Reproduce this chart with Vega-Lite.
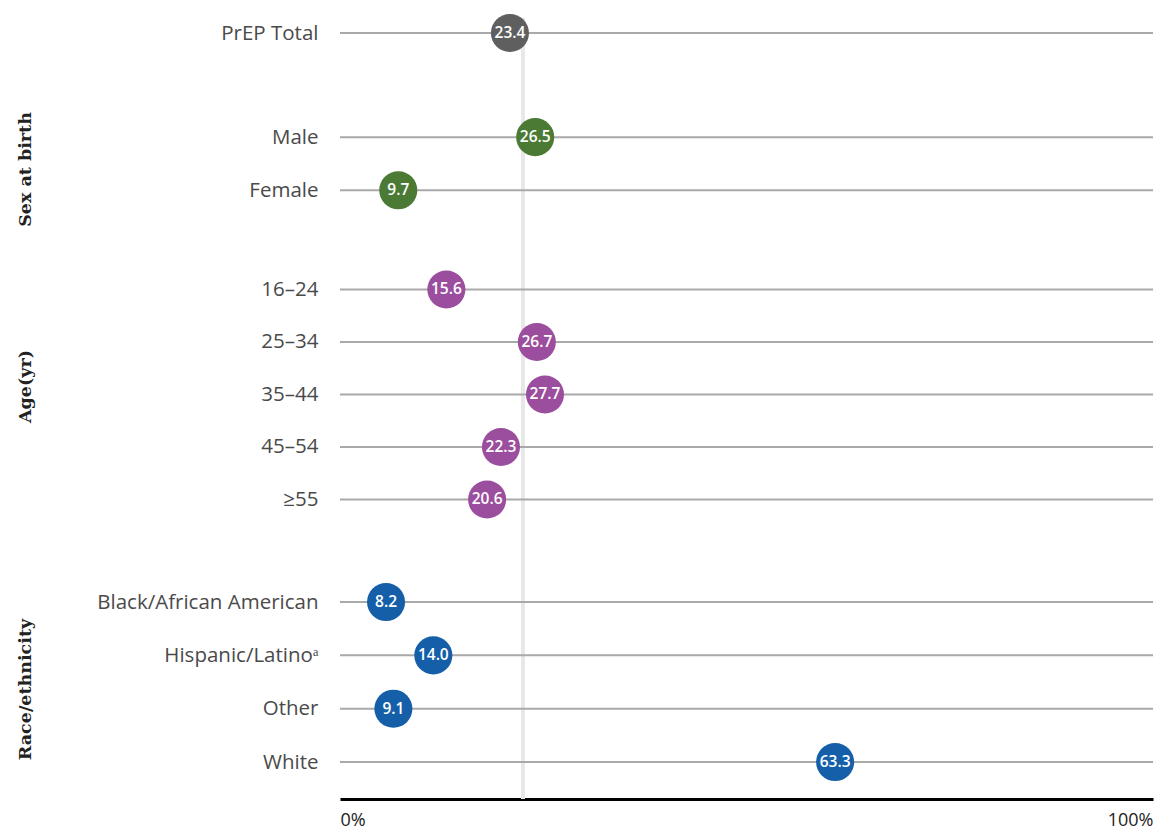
{
  "$schema": "https://vega.github.io/schema/vega-lite/v6.json",
  "padding": {"left": 16, "top": 13, "right": 4, "bottom": 0},
  "background": "white",
  "spacing": 0,
  "bounds": "flush",
  "config": {
    "view": {"stroke": null},
    "axis": {"grid": false, "ticks": false, "domain": false},
    "font": "Open Sans"
  },
  "datasets": {
    "pts": [
      {"group": "Total", "label": "PrEP Total", "value": 23.4},
      {"group": "Sex at birth", "label": "Male", "value": 26.5},
      {"group": "Sex at birth", "label": "Female", "value": 9.7},
      {"group": "Age(yr)", "label": "16–24", "value": 15.6},
      {"group": "Age(yr)", "label": "25–34", "value": 26.7},
      {"group": "Age(yr)", "label": "35–44", "value": 27.7},
      {"group": "Age(yr)", "label": "45–54", "value": 22.3},
      {"group": "Age(yr)", "label": "≥55", "value": 20.6},
      {"group": "Race/ethnicity", "label": "Black/African American", "value": 8.2},
      {"group": "Race/ethnicity", "label": "Hispanic/Latinoᵃ", "value": 14.0},
      {"group": "Race/ethnicity", "label": "Other", "value": 9.1},
      {"group": "Race/ethnicity", "label": "White", "value": 63.3}
    ],
    "ref": [{"v": 25}]
  },
  "vconcat": [
    {
      "width": 813, "height": 67,
      "layer": [
        {"data": {"name": "ref"}, "mark": {"type": "rule", "color": "#e8e8e8", "strokeWidth": 4},
         "encoding": {"x": {"field": "v", "type": "quantitative", "scale": {"domain": [2.55, 102.3], "nice": false, "zero": false}, "axis": null}}},
        {"data": {"name": "pts"}, "transform": [{"filter": "datum.group == 'Total'"}],
         "mark": {"type": "rule", "color": "#a9a9a9", "strokeWidth": 2},
         "encoding": {"y": {"field": "label", "type": "nominal", "sort": null, "title": null,
           "scale": {"type": "point", "padding": 0.5, "align": 0.224},
           "axis": {"labelFont": "Open Sans", "labelFontSize": 20.5, "labelColor": "#4a4a4a", "labelPadding": 22, "labelLimit": 400}}}},
        {"data": {"name": "pts"}, "transform": [{"filter": "datum.group == 'Total'"}],
         "mark": {"type": "circle", "size": 1450, "opacity": 1},
         "encoding": {
           "x": {"field": "value", "type": "quantitative", "axis": null},
           "y": {"field": "label", "type": "nominal", "sort": null},
           "color": {"field": "group", "type": "nominal", "legend": null,
             "scale": {"domain": ["Total", "Sex at birth", "Age(yr)", "Race/ethnicity"], "range": ["#5f5f5f", "#4b7a35", "#9a4e9d", "#155fa9"]}}}},
        {"data": {"name": "pts"}, "transform": [{"filter": "datum.group == 'Total'"}],
         "mark": {"type": "text", "color": "white", "fontSize": 15.5, "fontWeight": 600, "font": "Open Sans", "baseline": "middle", "align": "center"},
         "encoding": {
           "x": {"field": "value", "type": "quantitative", "axis": null},
           "y": {"field": "label", "type": "nominal", "sort": null},
           "text": {"field": "value", "type": "quantitative", "format": ".1f"}}}
      ]
    },
    {
      "width": 813, "height": 155,
      "layer": [
        {"data": {"name": "ref"}, "mark": {"type": "rule", "color": "#e8e8e8", "strokeWidth": 4},
         "encoding": {"x": {"field": "v", "type": "quantitative", "scale": {"domain": [2.55, 102.3], "nice": false, "zero": false}, "axis": null}}},
        {"data": {"name": "pts"}, "transform": [{"filter": "datum.group == 'Sex at birth'"}],
         "mark": {"type": "rule", "color": "#a9a9a9", "strokeWidth": 2},
         "encoding": {"y": {"field": "label", "type": "nominal", "sort": null, "title": "Sex at birth",
           "scale": {"type": "point", "padding": 0.958, "align": 0.512},
           "axis": {"labelFont": "Open Sans", "labelFontSize": 20.5, "labelColor": "#4a4a4a", "labelPadding": 22, "labelLimit": 400,
             "titleFont": "DejaVu Serif", "titleFontWeight": "bold", "titleFontSize": 17.5, "titleColor": "#222222",
             "titleX": -310, "titleY": 84, "titleBaseline": "alphabetic", "titleAngle": -90, "titleAlign": "center"}}}},
        {"data": {"name": "pts"}, "transform": [{"filter": "datum.group == 'Sex at birth'"}],
         "mark": {"type": "circle", "size": 1450, "opacity": 1},
         "encoding": {
           "x": {"field": "value", "type": "quantitative", "axis": null},
           "y": {"field": "label", "type": "nominal", "sort": null},
           "color": {"field": "group", "type": "nominal", "legend": null,
             "scale": {"domain": ["Total", "Sex at birth", "Age(yr)", "Race/ethnicity"], "range": ["#5f5f5f", "#4b7a35", "#9a4e9d", "#155fa9"]}}}},
        {"data": {"name": "pts"}, "transform": [{"filter": "datum.group == 'Sex at birth'"}],
         "mark": {"type": "text", "color": "white", "fontSize": 15.5, "fontWeight": 600, "font": "Open Sans", "baseline": "middle", "align": "center"},
         "encoding": {
           "x": {"field": "value", "type": "quantitative", "axis": null},
           "y": {"field": "label", "type": "nominal", "sort": null},
           "text": {"field": "value", "type": "quantitative", "format": ".1f"}}}
      ]
    },
    {
      "width": 813, "height": 311,
      "layer": [
        {"data": {"name": "ref"}, "mark": {"type": "rule", "color": "#e8e8e8", "strokeWidth": 4},
         "encoding": {"x": {"field": "v", "type": "quantitative", "scale": {"domain": [2.55, 102.3], "nice": false, "zero": false}, "axis": null}}},
        {"data": {"name": "pts"}, "transform": [{"filter": "datum.group == 'Age(yr)'"}],
         "mark": {"type": "rule", "color": "#a9a9a9", "strokeWidth": 2},
         "encoding": {"y": {"field": "label", "type": "nominal", "sort": null, "title": "Age(yr)",
           "scale": {"type": "point", "padding": 0.962, "align": 0.49},
           "axis": {"labelFont": "Open Sans", "labelFontSize": 20.5, "labelColor": "#4a4a4a", "labelPadding": 22, "labelLimit": 400,
             "titleFont": "DejaVu Serif", "titleFontWeight": "bold", "titleFontSize": 17.5, "titleColor": "#222222",
             "titleX": -310, "titleY": 146, "titleBaseline": "alphabetic", "titleAngle": -90, "titleAlign": "center"}}}},
        {"data": {"name": "pts"}, "transform": [{"filter": "datum.group == 'Age(yr)'"}],
         "mark": {"type": "circle", "size": 1450, "opacity": 1},
         "encoding": {
           "x": {"field": "value", "type": "quantitative", "axis": null},
           "y": {"field": "label", "type": "nominal", "sort": null},
           "color": {"field": "group", "type": "nominal", "legend": null,
             "scale": {"domain": ["Total", "Sex at birth", "Age(yr)", "Race/ethnicity"], "range": ["#5f5f5f", "#4b7a35", "#9a4e9d", "#155fa9"]}}}},
        {"data": {"name": "pts"}, "transform": [{"filter": "datum.group == 'Age(yr)'"}],
         "mark": {"type": "text", "color": "white", "fontSize": 15.5, "fontWeight": 600, "font": "Open Sans", "baseline": "middle", "align": "center"},
         "encoding": {
           "x": {"field": "value", "type": "quantitative", "axis": null},
           "y": {"field": "label", "type": "nominal", "sort": null},
           "text": {"field": "value", "type": "quantitative", "format": ".1f"}}}
      ]
    },
    {
      "width": 813, "height": 248,
      "layer": [
        {"data": {"name": "ref"}, "mark": {"type": "rule", "color": "#e8e8e8", "strokeWidth": 4},
         "encoding": {"x": {"field": "v", "type": "quantitative", "scale": {"domain": [2.55, 102.3], "nice": false, "zero": false},
           "axis": {"orient": "bottom", "values": [2.55, 102.3], "labelExpr": "datum.value < 50 ? '0%' : '100%'", "labelFlush": true,
             "domain": true, "domainColor": "#000000", "domainWidth": 3, "ticks": false, "grid": false, "title": null,
             "labelFont": "Open Sans", "labelFontSize": 18, "labelColor": "#222222", "labelPadding": 12}}}},
        {"data": {"name": "pts"}, "transform": [{"filter": "datum.group == 'Race/ethnicity'"}],
         "mark": {"type": "rule", "color": "#a9a9a9", "strokeWidth": 2},
         "encoding": {"y": {"field": "label", "type": "nominal", "sort": null, "title": "Race/ethnicity",
           "scale": {"type": "point", "padding": 0.825, "align": 0.58},
           "axis": {"labelFont": "Open Sans", "labelFontSize": 20.5, "labelColor": "#4a4a4a", "labelPadding": 22, "labelLimit": 400,
             "titleFont": "DejaVu Serif", "titleFontWeight": "bold", "titleFontSize": 17.5, "titleColor": "#222222",
             "titleX": -310, "titleY": 138, "titleBaseline": "alphabetic", "titleAngle": -90, "titleAlign": "center"}}}},
        {"data": {"name": "pts"}, "transform": [{"filter": "datum.group == 'Race/ethnicity'"}],
         "mark": {"type": "circle", "size": 1450, "opacity": 1},
         "encoding": {
           "x": {"field": "value", "type": "quantitative"},
           "y": {"field": "label", "type": "nominal", "sort": null},
           "color": {"field": "group", "type": "nominal", "legend": null,
             "scale": {"domain": ["Total", "Sex at birth", "Age(yr)", "Race/ethnicity"], "range": ["#5f5f5f", "#4b7a35", "#9a4e9d", "#155fa9"]}}}},
        {"data": {"name": "pts"}, "transform": [{"filter": "datum.group == 'Race/ethnicity'"}],
         "mark": {"type": "text", "color": "white", "fontSize": 15.5, "fontWeight": 600, "font": "Open Sans", "baseline": "middle", "align": "center"},
         "encoding": {
           "x": {"field": "value", "type": "quantitative"},
           "y": {"field": "label", "type": "nominal", "sort": null},
           "text": {"field": "value", "type": "quantitative", "format": ".1f"}}}
      ]
    }
  ]
}
